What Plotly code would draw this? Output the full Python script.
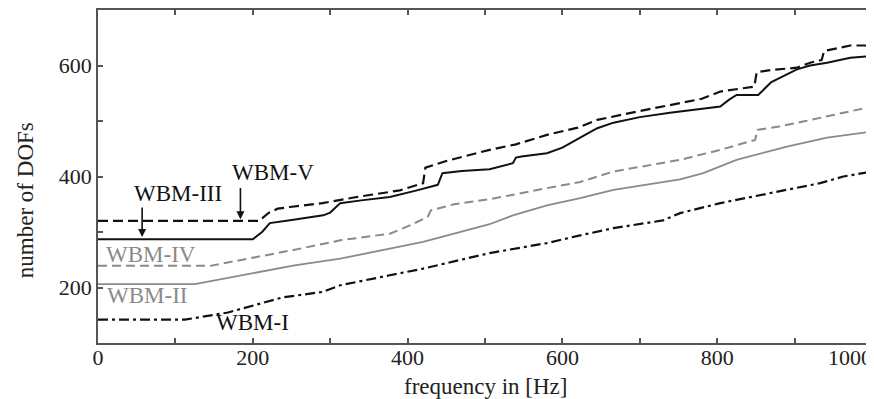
import plotly.graph_objects as go

# ---- data ----
wbm5_x = [0, 200, 212, 222, 248, 291, 300, 313, 340, 377, 412, 439, 445, 470, 506, 536, 540, 547, 580, 600, 623, 645, 666, 700, 739, 770, 804, 815, 825, 853, 870, 903, 920, 942, 972, 1000]
wbm5_y = [287, 287, 300, 316, 321, 330, 335, 352, 357, 363, 375, 385, 406, 410, 413, 424, 434, 436, 442, 452, 470, 487, 497, 507, 515, 520, 526, 538, 547, 547, 570, 593, 600, 605, 614, 617]

wbm3_x = [0, 208, 220, 232, 248, 290, 334, 390, 420, 423, 450, 506, 540, 580, 620, 645, 700, 752, 780, 804, 848, 851, 870, 903, 920, 935, 938, 972, 1000]
wbm3_y = [320, 320, 334, 342, 345, 352, 363, 375, 388, 416, 428, 448, 458, 475, 488, 502, 518, 533, 540, 553, 562, 588, 592, 596, 605, 610, 626, 636, 636]

wbm4_x = [0, 145, 254, 313, 377, 400, 426, 430, 460, 506, 580, 623, 666, 752, 804, 849, 852, 880, 911, 940, 972, 1000]
wbm4_y = [239, 239, 268, 285, 297, 310, 327, 339, 350, 359, 379, 390, 409, 430, 448, 466, 484, 490, 499, 508, 517, 526]

wbm2_x = [0, 125, 254, 313, 377, 420, 506, 536, 580, 623, 666, 752, 782, 825, 890, 942, 1000]
wbm2_y = [206, 206, 240, 252, 270, 282, 314, 330, 348, 361, 376, 395, 406, 430, 454, 470, 481]

wbm1_x = [0, 112, 168, 238, 290, 313, 377, 420, 506, 580, 623, 666, 730, 752, 804, 868, 933, 963, 1000]
wbm1_y = [142, 142, 155, 182, 192, 204, 222, 234, 262, 280, 294, 307, 321, 334, 352, 370, 388, 400, 409]

x_ticks = [0, 100, 200, 300, 400, 500, 600, 700, 800, 900, 1000]
x_tick_text = ["0", "", "200", "", "400", "", "600", "", "800", "", "1000"]
y_ticks = [100, 200, 300, 400, 500, 600, 700]
y_tick_text = ["", "200", "", "400", "", "600", ""]

BLACK = "#111111"
GRAY = "#8a8a8a"
FONT = "Liberation Serif"

fig = go.Figure()
series = [
    (wbm1_x, wbm1_y, BLACK, "10px,4px,3px,4px", 2.2),
    (wbm2_x, wbm2_y, GRAY, "solid", 1.8),
    (wbm4_x, wbm4_y, GRAY, "9px,5px", 2.0),
    (wbm5_x, wbm5_y, BLACK, "solid", 2.0),
    (wbm3_x, wbm3_y, BLACK, "10px,5px", 2.2),
]
for xs, ys, col, dash, w in series:
    fig.add_trace(go.Scatter(x=xs, y=ys, mode="lines", line=dict(color=col, width=w, dash=dash),
                             showlegend=False, hoverinfo="skip"))

labels = [
    ("WBM-III", 103, 370, BLACK),
    ("WBM-V", 226, 408, BLACK),
    ("WBM-IV", 69, 259, GRAY),
    ("WBM-II", 63, 185, GRAY),
    ("WBM-I", 200, 137, BLACK),
]
for t, x, y, c in labels:
    fig.add_annotation(x=x, y=y, text=t, showarrow=False, font=dict(family=FONT, size=23, color=c),
                       xanchor="center", yanchor="middle")

arrows = [(57, 291, 57, 347), (184, 323, 184, 382)]
for x, y, ax, ay in arrows:
    fig.add_annotation(x=x, y=y, ax=ax, ay=ay, xref="x", yref="y", axref="x", ayref="y", text="",
                       showarrow=True, arrowhead=2, arrowsize=1, arrowwidth=1.6, arrowcolor=BLACK)

# the last x tick label sits against the right edge (shifted left, as in the reference)
last_tick_text = x_tick_text[-1]
shown_tick_text = x_tick_text[:-1] + [""]
fig.add_annotation(text=last_tick_text, xref="x", yref="paper", x=x_ticks[-1], y=0, xanchor="right",
                   xshift=2, yshift=-14, yanchor="middle", showarrow=False,
                   font=dict(family=FONT, size=22, color="#222222"))

# axis titles
fig.add_annotation(text="frequency in [Hz]", xref="paper", yref="paper", x=0.5, y=0, yshift=-43,
                   showarrow=False, xanchor="center", yanchor="middle",
                   font=dict(family=FONT, size=23, color="#222222"))
fig.add_annotation(text="number of DOFs", xref="paper", yref="paper", x=0, xshift=-73, y=0.429,
                   showarrow=False, xanchor="center", yanchor="middle", textangle=-90,
                   font=dict(family=FONT, size=23, color="#222222"))

axis_common = dict(showgrid=False, zeroline=False, showline=True, linecolor="#555555", linewidth=1.5,
                   mirror="ticks", ticks="inside", ticklen=5, tickcolor="#555555", tickwidth=1.5,
                   automargin=False,
                   tickfont=dict(family=FONT, size=22, color="#222222"))

fig.update_xaxes(range=[0, 1000], tickmode="array", tickvals=x_ticks, ticktext=shown_tick_text,
                 ticklabelstandoff=-6, **axis_common)
fig.update_yaxes(range=[100, 700], tickmode="array", tickvals=y_ticks, ticktext=y_tick_text, **axis_common)

# page body has an 8px default margin; sizes/margins compensate so the plot area lands at 98..872 x 10..343
fig.update_layout(width=866, height=391, margin=dict(l=90, r=2, t=2, b=56, autoexpand=False),
                  paper_bgcolor="white", plot_bgcolor="white", font=dict(family=FONT))

fig.write_html("out.html")
